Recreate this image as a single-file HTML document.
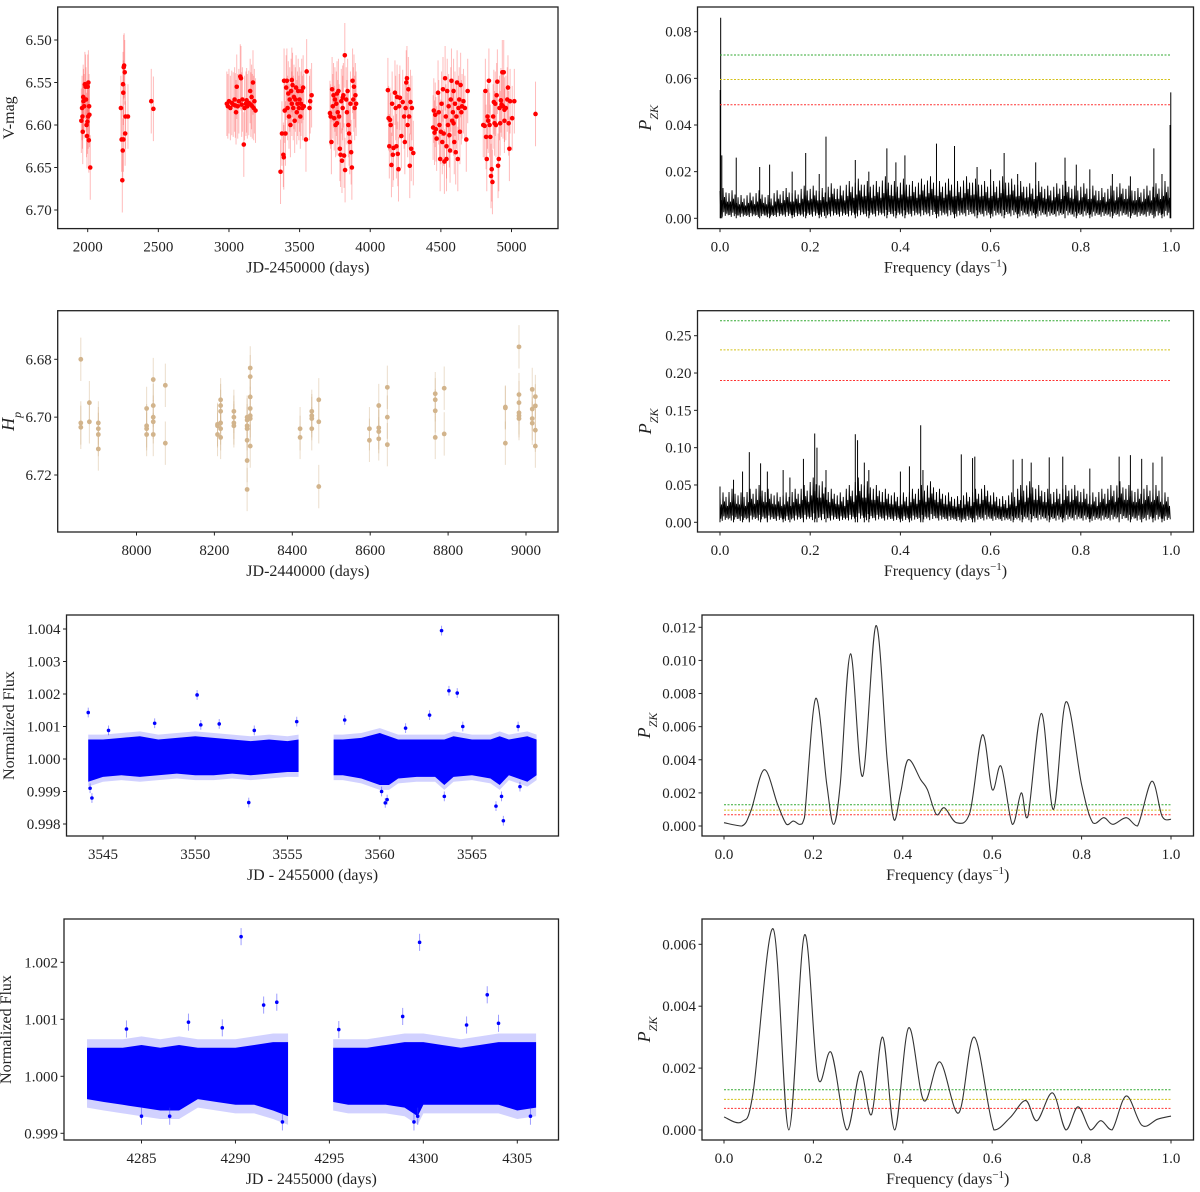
<!DOCTYPE html>
<html>
<head>
<meta charset="utf-8">
<style>
  html,body{margin:0;padding:0;background:#fff;}
  svg{display:block;font-family:"Liberation Serif","DejaVu Serif",serif;}
</style>
</head>
<body>
<svg id="chart" width="1200" height="1192" viewBox="0 0 1200 1192" xmlns="http://www.w3.org/2000/svg"></svg>
<script>
// ---------------- DATA ----------------
const asasPoints = [
[1955,6.595],[1960,6.58],[1963,6.59],[1965,6.608],[1968,6.567],[1970,6.572],[1975,6.578],[1980,6.552],[1985,6.555],[1988,6.57],[1992,6.6],[1995,6.613],[1998,6.596],[2000,6.555],[2003,6.59],[2005,6.55],[2008,6.618],[2010,6.578],[2012,6.588],[2018,6.65],
[2235,6.58],[2240,6.617],[2245,6.665],[2248,6.63],[2250,6.552],[2252,6.562],[2255,6.532],[2258,6.53],[2262,6.538],[2265,6.61],[2268,6.59],[2285,6.59],[2253,6.617],
[2450,6.572],[2465,6.581],
[2985,6.575],[2992,6.578],[3000,6.572],[3010,6.58],[3020,6.574],[3030,6.576],[3040,6.57],[3050,6.585],[3055,6.555],[3062,6.578],[3070,6.572],[3080,6.543],[3085,6.545],[3090,6.576],[3095,6.57],[3105,6.623],[3110,6.58],[3120,6.575],[3130,6.578],[3140,6.574],[3150,6.56],[3155,6.576],[3160,6.567],[3170,6.55],[3175,6.58],[3180,6.572],[3188,6.583],[3045,6.577],[3125,6.571],[3165,6.578],
[3365,6.655],[3375,6.61],[3385,6.635],[3390,6.548],[3395,6.583],[3400,6.61],[3405,6.556],[3410,6.548],[3415,6.58],[3420,6.563],[3425,6.59],[3430,6.57],[3435,6.6],[3440,6.56],[3445,6.575],[3450,6.553],[3455,6.58],[3460,6.567],[3465,6.595],[3470,6.57],[3475,6.556],[3480,6.585],[3485,6.575],[3490,6.56],[3495,6.58],[3500,6.57],[3505,6.59],[3510,6.575],[3515,6.56],[3520,6.58],[3525,6.556],[3530,6.578],[3545,6.617],[3550,6.537],[3570,6.58],[3575,6.572],[3585,6.565],[3388,6.638],[3445,6.547],
[3715,6.586],[3720,6.59],[3725,6.62],[3730,6.558],[3735,6.578],[3740,6.565],[3745,6.592],[3750,6.57],[3755,6.6],[3760,6.575],[3765,6.563],[3770,6.585],[3775,6.56],[3780,6.59],[3785,6.628],[3790,6.635],[3795,6.572],[3800,6.642],[3805,6.58],[3810,6.565],[3815,6.636],[3820,6.518],[3822,6.653],[3830,6.57],[3835,6.585],[3840,6.56],[3845,6.6],[3850,6.61],[3855,6.62],[3860,6.575],[3865,6.632],[3870,6.65],[3875,6.548],[3880,6.57],[3885,6.555],[3890,6.58],[3895,6.565],[3900,6.575],[3765,6.598],[3805,6.568],
[4125,6.559],[4130,6.592],[4135,6.625],[4140,6.594],[4145,6.6],[4150,6.647],[4155,6.575],[4160,6.635],[4165,6.627],[4175,6.562],[4180,6.58],[4185,6.625],[4190,6.567],[4195,6.634],[4200,6.652],[4205,6.578],[4210,6.568],[4220,6.613],[4230,6.573],[4240,6.59],[4250,6.58],[4255,6.55],[4260,6.545],[4265,6.6],[4270,6.558],[4275,6.59],[4280,6.648],[4285,6.573],[4290,6.628],[4295,6.58],[4305,6.633],[4245,6.62],
[4445,6.603],[4450,6.583],[4455,6.609],[4460,6.588],[4465,6.605],[4470,6.616],[4480,6.562],[4485,6.585],[4490,6.6],[4495,6.64],[4500,6.608],[4505,6.575],[4510,6.62],[4515,6.558],[4520,6.61],[4525,6.643],[4530,6.545],[4535,6.59],[4540,6.625],[4545,6.56],[4550,6.6],[4555,6.578],[4560,6.612],[4565,6.63],[4570,6.57],[4575,6.548],[4580,6.595],[4585,6.585],[4590,6.56],[4595,6.62],[4600,6.575],[4605,6.632],[4610,6.59],[4615,6.55],[4620,6.64],[4625,6.58],[4630,6.57],[4635,6.608],[4640,6.553],[4645,6.585],[4650,6.578],[4660,6.572],[4670,6.58],[4680,6.617],[4690,6.56],[4540,6.64],[4590,6.598],
[4800,6.6],[4810,6.601],[4815,6.56],[4820,6.614],[4825,6.64],[4830,6.59],[4835,6.595],[4840,6.548],[4845,6.6],[4850,6.614],[4855,6.66],[4860,6.652],[4865,6.667],[4870,6.59],[4875,6.573],[4880,6.598],[4885,6.575],[4890,6.6],[4895,6.565],[4900,6.549],[4905,6.648],[4910,6.64],[4915,6.58],[4920,6.598],[4925,6.571],[4930,6.576],[4935,6.538],[4940,6.578],[4945,6.538],[4950,6.595],[4960,6.58],[4970,6.57],[4975,6.556],[4980,6.598],[4985,6.628],[4990,6.572],[5005,6.592],[5020,6.572],[4950,6.582],
[5170,6.587]];
const asasErr = 0.038;
const asasXTicks = [2000,2500,3000,3500,4000,4500,5000];
const asasYTicks = [6.50,6.55,6.60,6.65,6.70];

const hipPoints = [
[7857,6.68],[7857,6.702],[7857,6.7035],[7879,6.695],[7879,6.7016],
[7902,6.702],[7902,6.704],[7902,6.706],[7902,6.711],
[8026,6.697],[8026,6.703],[8026,6.704],[8026,6.706],
[8043,6.687],[8043,6.696],[8043,6.700],[8043,6.7016],[8043,6.706],
[8074,6.689],[8074,6.709],
[8208,6.7025],[8208,6.703],[8208,6.706],
[8216,6.694],[8216,6.696],[8216,6.698],[8216,6.702],[8216,6.704],[8216,6.707],
[8250,6.698],[8250,6.700],[8250,6.702],[8250,6.703],
[8284,6.700],[8284,6.701],[8284,6.703],[8284,6.704],[8284,6.708],[8284,6.715],[8284,6.725],
[8292,6.683],[8292,6.686],[8292,6.693],[8292,6.697],[8292,6.6995],[8292,6.7005],[8292,6.71],
[8420,6.704],[8420,6.707],
[8450,6.698],[8450,6.6995],[8450,6.7005],[8450,6.704],
[8468,6.694],[8468,6.7016],[8468,6.724],
[8598,6.704],[8598,6.708],
[8622,6.696],[8622,6.7037],[8622,6.705],[8622,6.7075],
[8644,6.6897],[8644,6.700],[8644,6.7095],
[8767,6.6919],[8767,6.694],[8767,6.6978],[8767,6.707],
[8790,6.69],[8790,6.7058],
[8947,6.6965],[8947,6.6968],[8947,6.709],
[8982,6.6757],[8982,6.6922],[8982,6.695],[8982,6.6985],[8982,6.6995],[8982,6.7005],
[9016,6.6904],[9016,6.6972],[9016,6.7005],[9016,6.7021],
[9024,6.6929],[9024,6.6961],[9024,6.7045],[9024,6.71]];
const hipErr = 0.0075;
const hipXTicks = [8000,8200,8400,8600,8800,9000];
const hipYTicks = [6.68,6.70,6.72];

const pg1Env = [0.013,0.012,0.010,0.011,0.012,0.010,0.012,0.013,0.012,0.014,0.014,0.013,0.015,0.014,0.016,0.017,0.016,0.016,0.018,0.016,0.017,0.016,0.017,0.018,0.016,0.017,0.016,0.018,0.017,0.016,0.016,0.018,0.017,0.016,0.015,0.016,0.014,0.015,0.016,0.014,0.015,0.014,0.013,0.014,0.015,0.014,0.013,0.014,0.015,0.016];
const pg1Spikes = [[0.0015,0.086],[0.0005,0.055],[0.004,0.027],[0.036,0.026],[0.088,0.022],[0.11,0.023],[0.16,0.02],[0.19,0.028],[0.22,0.019],[0.235,0.035],[0.3,0.025],[0.33,0.02],[0.37,0.03],[0.39,0.024],[0.41,0.027],[0.48,0.032],[0.52,0.031],[0.57,0.022],[0.6,0.021],[0.63,0.028],[0.66,0.019],[0.7,0.024],[0.765,0.026],[0.79,0.023],[0.82,0.021],[0.87,0.019],[0.91,0.018],[0.962,0.03],[0.98,0.019],[0.998,0.04],[0.9995,0.054]];
const pg1Thresh = [0.070,0.0595,0.0487];
const pg1YTicks = [0,0.02,0.04,0.06,0.08];

const pg2Env = [0.04,0.045,0.04,0.045,0.05,0.045,0.04,0.04,0.045,0.05,0.06,0.055,0.045,0.04,0.05,0.06,0.055,0.05,0.045,0.04,0.04,0.045,0.05,0.055,0.045,0.04,0.035,0.04,0.045,0.05,0.04,0.035,0.04,0.05,0.055,0.05,0.045,0.045,0.05,0.05,0.045,0.04,0.045,0.05,0.055,0.05,0.045,0.05,0.05,0.04];
const pg2Spikes = [[0.0,0.048],[0.03,0.057],[0.05,0.068],[0.065,0.094],[0.09,0.079],[0.105,0.068],[0.14,0.07],[0.155,0.06],[0.185,0.085],[0.21,0.119],[0.215,0.1],[0.235,0.07],[0.3,0.118],[0.305,0.11],[0.32,0.08],[0.33,0.07],[0.4,0.068],[0.42,0.075],[0.445,0.13],[0.45,0.07],[0.535,0.091],[0.56,0.086],[0.565,0.088],[0.65,0.084],[0.67,0.085],[0.69,0.08],[0.73,0.087],[0.76,0.088],[0.82,0.072],[0.885,0.088],[0.91,0.09],[0.935,0.085],[0.96,0.08],[0.98,0.088]];
const pg2Thresh = [0.27,0.231,0.19];
const pg2YTicks = [0,0.05,0.10,0.15,0.20,0.25];

const tessA_t1 = [3544.2,3545,3546,3547,3548,3549,3550,3551,3552,3553,3554,3555,3555.6];
const tessA_hi1 = [1.0006,1.0006,1.00065,1.0007,1.0006,1.00065,1.0007,1.00065,1.0006,1.00055,1.0006,1.00055,1.0006];
const tessA_lo1 = [0.9993,0.99945,0.9995,0.99945,0.9995,0.99955,0.9995,0.9995,0.99955,0.9995,0.99955,0.9996,0.9996];
const tessA_t2 = [3557.5,3558,3559,3560,3560.5,3561,3562,3563,3563.5,3564,3565,3566,3566.5,3567,3568,3568.5];
const tessA_hi2 = [1.0006,1.0006,1.00065,1.0008,1.0007,1.0006,1.0006,1.0006,1.0006,1.0007,1.0006,1.0006,1.0007,1.0006,1.0007,1.0006];
const tessA_lo2 = [0.9995,0.9995,0.9994,0.9992,0.9992,0.9994,0.99945,0.99945,0.9992,0.99945,0.9995,0.9994,0.9992,0.9995,0.9993,0.9995];
const tessA_out = [[3544.2,1.00143],[3544.4,0.9988],[3544.3,0.9991],[3545.3,1.00088],[3547.8,1.0011],[3550.1,1.00197],[3550.3,1.00105],[3551.3,1.00108],[3552.9,0.99866],[3553.2,1.00088],[3555.5,1.00115],[3558.1,1.0012],[3560.3,0.99865],[3560.4,0.99875],[3560.1,0.999],[3561.4,1.00095],[3562.7,1.00135],[3563.35,1.00395],[3563.75,1.0021],[3564.2,1.00203],[3564.5,1.001],[3563.5,0.99885],[3566.3,0.99855],[3566.7,0.9981],[3566.6,0.99885],[3567.5,1.001],[3567.6,0.99915]];
const tessA_XTicks = [3545,3550,3555,3560,3565];
const tessA_YTicks = [0.998,0.999,1.000,1.001,1.002,1.003,1.004];

const pg3Curve = [[0,0.0002],[0.04,0.0],[0.06,0.0009],[0.09,0.0034],[0.12,0.0013],[0.14,0.0001],[0.155,0.0003],[0.17,0.0001],[0.18,0.0005],[0.205,0.0077],[0.23,0.0025],[0.245,0.0001],[0.26,0.0025],[0.283,0.0104],[0.31,0.003],[0.34,0.0121],[0.365,0.004],[0.38,0.0004],[0.395,0.002],[0.412,0.004],[0.44,0.0028],[0.455,0.0022],[0.475,0.0007],[0.493,0.0011],[0.52,0.0002],[0.55,0.0008],[0.578,0.0055],[0.6,0.0022],[0.62,0.0036],[0.645,0.0001],[0.665,0.002],[0.68,0.0006],[0.71,0.0068],[0.737,0.001],[0.765,0.0075],[0.8,0.0025],[0.825,0.0002],[0.85,0.0005],[0.87,0.0001],[0.9,0.0005],[0.925,0.0],[0.957,0.0027],[0.98,0.0006],[1.0,0.0004]];
const pg3Thresh = [0.00128,0.00096,0.00068];
const pg3YTicks = [0,0.002,0.004,0.006,0.008,0.010,0.012];

const tessB_t1 = [4282.1,4283,4284,4285,4286,4287,4288,4289,4290,4291,4292,4292.8];
const tessB_hi1 = [1.0005,1.0005,1.0005,1.00055,1.0005,1.00055,1.0005,1.0005,1.0005,1.00055,1.0006,1.0006];
const tessB_lo1 = [0.9996,0.99955,0.9995,0.99945,0.9994,0.9994,0.9996,0.99955,0.9995,0.9995,0.9994,0.9993];
const tessB_t2 = [4295.2,4296,4297,4298,4299,4299.7,4300,4301,4302,4303,4304,4305,4306];
const tessB_hi2 = [1.0005,1.0005,1.0005,1.00055,1.0006,1.0006,1.0006,1.00055,1.0005,1.00055,1.0006,1.0006,1.0006];
const tessB_lo2 = [0.99955,0.9995,0.9995,0.9995,0.99945,0.9993,0.9995,0.9995,0.9995,0.9995,0.9995,0.9994,0.99945];
const tessB_out = [[4290.3,1.00245],[4299.8,1.00235],[4291.5,1.00125],[4292.2,1.0013],[4303.4,1.00143],[4287.5,1.00095],[4298.9,1.00105],[4302.3,1.0009],[4304.0,1.00093],[4284.2,1.00083],[4289.3,1.00085],[4295.5,1.00082],[4292.5,0.9992],[4299.5,0.9992],[4299.7,0.9993],[4285,0.9993],[4286.5,0.9993],[4305.7,0.9993]];
const tessB_XTicks = [4285,4290,4295,4300,4305];
const tessB_YTicks = [0.999,1.000,1.001,1.002];
const tessErr = 0.00015;

const pg4Curve = [[0,0.00042],[0.04,0.00027],[0.065,0.0012],[0.11,0.0065],[0.145,0.0],[0.18,0.0063],[0.21,0.0017],[0.24,0.0025],[0.275,0.0],[0.305,0.0019],[0.33,0.0005],[0.355,0.003],[0.382,0.0],[0.413,0.0033],[0.447,0.00095],[0.483,0.0022],[0.525,0.00055],[0.56,0.003],[0.604,0.0],[0.64,0.0004],[0.675,0.00095],[0.7,0.0003],[0.735,0.0012],[0.765,0.0],[0.792,0.00075],[0.82,0.0],[0.843,0.0003],[0.868,0.0],[0.9,0.0011],[0.935,0.00015],[0.97,0.00035],[1.0,0.00045]];
const pg4Thresh = [0.0013,0.00099,0.0007];
const pg4YTicks = [0,0.002,0.004,0.006];
const freqTicks = [0,0.2,0.4,0.6,0.8,1.0];

// ---------------- DRAWING ----------------
const NS = 'http://www.w3.org/2000/svg';
const svg = document.getElementById('chart');
function mk(tag, attrs, parent){
  const e = document.createElementNS(NS, tag);
  for (const k in attrs) e.setAttribute(k, attrs[k]);
  (parent||svg).appendChild(e);
  return e;
}
function lin(d0,d1,p0,p1){ return v => p0 + (v-d0)*(p1-p0)/(d1-d0); }
const threshColors = ['#33aa33','#d4c21a','#ff3333'];
const threshNames = ['threshold-green','threshold-yellow','threshold-red'];

function makePanel(name, box){
  const g = mk('g', {});
  
  
  const cp = mk('clipPath', {id: 'clip-'+name}, g);
  mk('rect', {x: box.l, y: box.t, width: box.r-box.l, height: box.b-box.t}, cp);
  const plot = mk('g', {'clip-path': 'url(#clip-'+name+')'}, g);
  
  
  return {g, plot};
}

function drawAxes(g, box, sx, sy, xt, yt, xfmt, yfmt, xlabel, ylabel, ylabX){
  const frame = mk('rect', {x: box.l, y: box.t, width: box.r-box.l, height: box.b-box.t, fill: 'none', stroke: '#222', 'stroke-width': 1.3}, g);
  
  
  xt.forEach(v => {
    const x = sx(v);
    const tk = mk('line', {x1: x, x2: x, y1: box.b, y2: box.b+3.5, stroke: '#222', 'stroke-width': 1}, g);
    
    
    const t = mk('text', {x: x, y: box.b+23, 'text-anchor': 'middle', 'font-size': 15, fill: '#222'}, g);
    t.textContent = xfmt(v);
    
    
  });
  yt.forEach(v => {
    const y = sy(v);
    const tk = mk('line', {x1: box.l-3.5, x2: box.l, y1: y, y2: y, stroke: '#222', 'stroke-width': 1}, g);
    
    
    const t = mk('text', {x: box.l-6, y: y+5, 'text-anchor': 'end', 'font-size': 15, fill: '#222'}, g);
    t.textContent = yfmt(v);
    
    
  });
  const xl = mk('text', {x: (box.l+box.r)/2, y: box.b+44, 'text-anchor': 'middle', 'font-size': 16, fill: '#222'}, g);
  
  
  if (xlabel === 'freq'){
    xl.appendChild(document.createTextNode('Frequency (days'));
    const sup = mk('tspan', {'baseline-shift': 'super', 'font-size': 11}, xl);
    sup.textContent = '\u22121';
    const rest = mk('tspan', {}, xl);
    rest.textContent = ')';
  } else xl.textContent = xlabel;
  const cy = (box.t+box.b)/2;
  const yl = mk('text', {x: ylabX, y: cy, 'text-anchor': 'middle', 'font-size': 16, fill: '#222', transform: 'rotate(-90 '+ylabX+' '+cy+')'}, g);
  
  
  if (ylabel === 'PZK'){
    const p = mk('tspan', {'font-style': 'italic', 'font-size': 18}, yl); p.textContent = 'P';
    const s = mk('tspan', {'font-style': 'italic', 'font-size': 12, 'baseline-shift': 'sub'}, yl); s.textContent = 'ZK';
  } else if (ylabel === 'Hp'){
    const p = mk('tspan', {'font-style': 'italic', 'font-size': 18}, yl); p.textContent = 'H';
    const s = mk('tspan', {'font-style': 'italic', 'font-size': 12, 'baseline-shift': 'sub'}, yl); s.textContent = 'p';
  } else yl.textContent = ylabel;
}

function drawThresholds(plot, box, sx, sy, vals){
  vals.forEach((v,i) => {
    const l = mk('line', {x1: sx(0), x2: sx(1), y1: sy(v), y2: sy(v), stroke: threshColors[i], 'stroke-width': 1, 'stroke-dasharray': '2,1.5'}, plot);
    
    
  });
}

function drawErrPoints(plot, pts, err, sx, sy, color, errColor, r, nm){
  const eg = mk('g', {}, plot);
  pts.forEach(p => {
    const x = sx(p[0]);
    const el = mk('line', {x1: x, x2: x, y1: sy(p[1]-err), y2: sy(p[1]+err), stroke: errColor, 'stroke-width': 1}, eg);
    
    
  });
  pts.forEach(p => {
    const c = mk('circle', {cx: sx(p[0]), cy: sy(p[1]), r: r, fill: color}, plot);
    
    
  });
}

const zig = [0.9,0.12,0.6,0.05,1.0,0.2,0.7,0.08,0.85,0.15,0.55,0.1];
function drawNoisyPG(plot, env, spikes, sx, sy){
  const step = 1/env.length;
  let d = '';
  env.forEach((h, i) => {
    zig.forEach((f, j) => {
      const fr = i*step + j*step/zig.length;
      if (fr > 1) return;
      d += (d ? 'L' : 'M') + sx(fr).toFixed(2) + ',' + sy(h*f).toFixed(2);
    });
  });
  const p = mk('path', {d: d, fill: 'none', stroke: '#000', 'stroke-width': 0.9}, plot);
  
  
  spikes.forEach(s => {
    const l = mk('line', {x1: sx(s[0]), x2: sx(s[0]), y1: sy(0), y2: sy(s[1]), stroke: '#000', 'stroke-width': 1}, plot);
    
    
  });
}

function smoothPath(pts, sx, sy){
  const P = pts.map(p => [sx(p[0]), sy(p[1])]);
  const floorY = sy(0);
  const cl = y => Math.min(y, floorY);
  let d = 'M' + P[0][0] + ',' + P[0][1];
  for (let i = 0; i < P.length-1; i++){
    const p0 = P[Math.max(0,i-1)], p1 = P[i], p2 = P[i+1], p3 = P[Math.min(P.length-1,i+2)];
    const c1 = [p1[0]+(p2[0]-p0[0])/6, cl(p1[1]+(p2[1]-p0[1])/6)];
    const c2 = [p2[0]-(p3[0]-p1[0])/6, cl(p2[1]-(p3[1]-p1[1])/6)];
    d += 'C' + c1[0].toFixed(2)+','+c1[1].toFixed(2)+' '+c2[0].toFixed(2)+','+c2[1].toFixed(2)+' '+p2[0].toFixed(2)+','+p2[1].toFixed(2);
  }
  return d;
}

function band(plot, ts, hi, lo, sx, sy, off, fill, nm){
  let d = '';
  ts.forEach((t,i) => { d += (i ? 'L' : 'M') + sx(t).toFixed(2) + ',' + sy(hi[i]+off).toFixed(2); });
  for (let i = ts.length-1; i >= 0; i--) d += 'L' + sx(ts[i]).toFixed(2) + ',' + sy(lo[i]-off).toFixed(2);
  d += 'Z';
  const p = mk('path', {d: d, fill: fill, stroke: 'none'}, plot);
  
  
}

const f2 = v => v.toFixed(2), f1 = v => v.toFixed(1), f3 = v => v.toFixed(3), f0 = v => String(v);
const haloFill = 'rgba(90,90,255,0.28)';

(function(){
  const box = {l: 57.7, r: 558, t: 7, b: 228.6};
  const sx = lin(2000, 5000, 87.7, 511.5), sy = lin(6.50, 6.70, 40, 210);
  const {g, plot} = makePanel('asas-light-curve', box);
  drawErrPoints(plot, asasPoints, asasErr, sx, sy, '#ff0000', 'rgba(255,60,60,0.35)', 2.3, 'asas-point');
  drawAxes(g, box, sx, sy, asasXTicks, asasYTicks, f0, f2, 'JD-2450000 (days)', 'V-mag', 14);
})();
(function(){
  const box = {l: 697.5, r: 1193.5, t: 7, b: 228.6};
  const sx = lin(0, 1, 720, 1171), sy = lin(0, 0.08, 218.3, 31.7);
  const {g, plot} = makePanel('asas-periodogram', box);
  drawNoisyPG(plot, pg1Env, pg1Spikes, sx, sy);
  drawThresholds(plot, box, sx, sy, pg1Thresh);
  drawAxes(g, box, sx, sy, freqTicks, pg1YTicks, f1, f2, 'freq', 'PZK', 651);
})();
(function(){
  const box = {l: 57.7, r: 558, t: 310.7, b: 532};
  const sx = lin(8000, 9000, 136.5, 526), sy = lin(6.68, 6.72, 359.3, 475);
  const {g, plot} = makePanel('hipparcos-light-curve', box);
  drawErrPoints(plot, hipPoints, hipErr, sx, sy, '#d2b48c', 'rgba(210,180,140,0.45)', 2.4, 'hipparcos-point');
  drawAxes(g, box, sx, sy, hipXTicks, hipYTicks, f0, f2, 'JD-2440000 (days)', 'Hp', 14);
})();
(function(){
  const box = {l: 697.5, r: 1193.5, t: 310.7, b: 532};
  const sx = lin(0, 1, 720, 1171), sy = lin(0, 0.25, 522.3, 335.7);
  const {g, plot} = makePanel('hipparcos-periodogram', box);
  drawNoisyPG(plot, pg2Env, pg2Spikes, sx, sy);
  drawThresholds(plot, box, sx, sy, pg2Thresh);
  drawAxes(g, box, sx, sy, freqTicks, pg2YTicks, f1, f2, 'freq', 'PZK', 651);
})();
(function(){
  const box = {l: 66.5, r: 558.5, t: 615, b: 836};
  const sx = lin(3545, 3565, 103, 472), sy = lin(1.004, 0.998, 629, 824);
  const {g, plot} = makePanel('tess-sector-a-light-curve', box);
  band(plot, tessA_t1, tessA_hi1, tessA_lo1, sx, sy, tessErr, haloFill, 'flux-error-band');
  band(plot, tessA_t2, tessA_hi2, tessA_lo2, sx, sy, tessErr, haloFill, 'flux-error-band');
  band(plot, tessA_t1, tessA_hi1, tessA_lo1, sx, sy, 0, '#0000ff', 'flux-band');
  band(plot, tessA_t2, tessA_hi2, tessA_lo2, sx, sy, 0, '#0000ff', 'flux-band');
  drawErrPoints(plot, tessA_out, tessErr, sx, sy, '#0000ff', 'rgba(60,60,255,0.5)', 1.8, 'flux-outlier');
  drawAxes(g, box, sx, sy, tessA_XTicks, tessA_YTicks, f0, f3, 'JD - 2455000 (days)', 'Normalized Flux', 14);
})();
(function(){
  const box = {l: 702, r: 1193.5, t: 615, b: 836};
  const sx = lin(0, 1, 724, 1171), sy = lin(0, 0.012, 826, 627.3);
  const {g, plot} = makePanel('tess-sector-a-periodogram', box);
  drawThresholds(plot, box, sx, sy, pg3Thresh);
  const p = mk('path', {d: smoothPath(pg3Curve, sx, sy), fill: 'none', stroke: '#333', 'stroke-width': 1.1}, plot);
  
  
  drawAxes(g, box, sx, sy, freqTicks, pg3YTicks, f1, f3, 'freq', 'PZK', 650);
})();
(function(){
  const box = {l: 64, r: 558.5, t: 919, b: 1140};
  const sx = lin(4285, 4305, 141.5, 517.3), sy = lin(1.002, 0.999, 962.3, 1133.3);
  const {g, plot} = makePanel('tess-sector-b-light-curve', box);
  band(plot, tessB_t1, tessB_hi1, tessB_lo1, sx, sy, tessErr, haloFill, 'flux-error-band');
  band(plot, tessB_t2, tessB_hi2, tessB_lo2, sx, sy, tessErr, haloFill, 'flux-error-band');
  band(plot, tessB_t1, tessB_hi1, tessB_lo1, sx, sy, 0, '#0000ff', 'flux-band');
  band(plot, tessB_t2, tessB_hi2, tessB_lo2, sx, sy, 0, '#0000ff', 'flux-band');
  drawErrPoints(plot, tessB_out, tessErr, sx, sy, '#0000ff', 'rgba(60,60,255,0.5)', 1.8, 'flux-outlier');
  drawAxes(g, box, sx, sy, tessB_XTicks, tessB_YTicks, f0, f3, 'JD - 2455000 (days)', 'Normalized Flux', 11);
})();
(function(){
  const box = {l: 702, r: 1193.5, t: 919, b: 1140};
  const sx = lin(0, 1, 724, 1171), sy = lin(0, 0.006, 1130, 944.3);
  const {g, plot} = makePanel('tess-sector-b-periodogram', box);
  drawThresholds(plot, box, sx, sy, pg4Thresh);
  const p = mk('path', {d: smoothPath(pg4Curve, sx, sy), fill: 'none', stroke: '#333', 'stroke-width': 1.1}, plot);
  
  
  drawAxes(g, box, sx, sy, freqTicks, pg4YTicks, f1, f3, 'freq', 'PZK', 650);
})();
</script>
</body>
</html>
